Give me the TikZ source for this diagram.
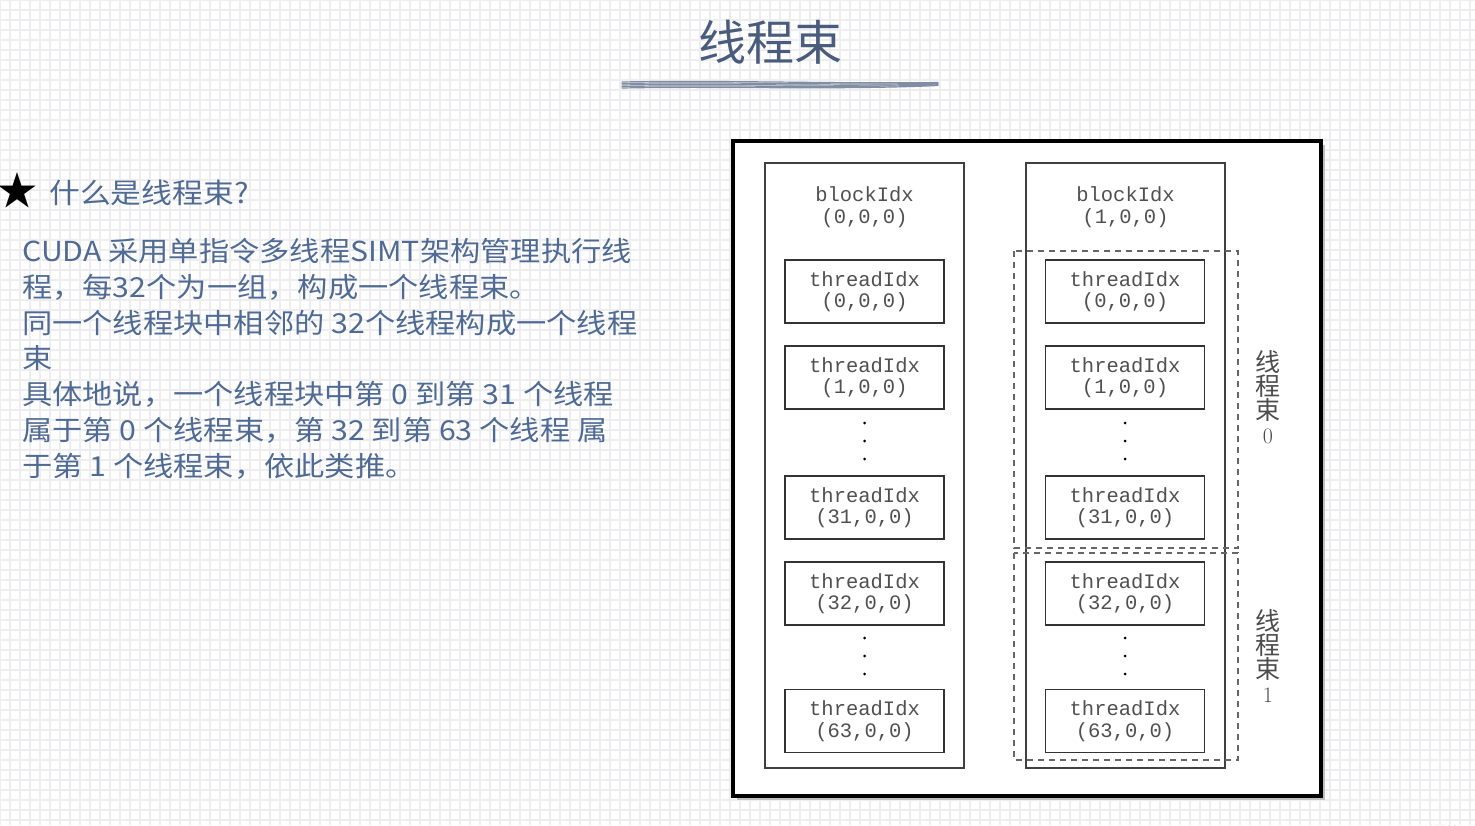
\documentclass[tikz,border=0pt]{standalone}
\usepackage{fontspec}
\newfontfamily\cjk{Noto Sans CJK SC}
\newfontfamily\cjkw{Noto Sans CJK SC}[FakeStretch=1.1]
\newfontfamily\mono{Liberation Mono}
\definecolor{slate}{HTML}{4F6A93}
\definecolor{titlec}{HTML}{4A5C7C}
\definecolor{gridc}{HTML}{EEEEF1}
\definecolor{monoc}{HTML}{505050}
\tikzset{
  tbox/.style={draw=black!80,line width=1.6pt,minimum width=159pt,minimum height=63pt,inner sep=0pt,align=center,font=\mono\fontsize{20.5}{21.5}\selectfont,text=monoc},
  blk/.style={draw=black!75,line width=1.4pt},
  warp/.style={draw=black!60,dashed,line width=1.3pt,dash pattern=on 6pt off 5pt},
  dotn/.style={circle,fill=black,inner sep=0pt,minimum size=3pt},
  body/.style={anchor=west,font=\cjkw\fontsize{27.5}{30}\selectfont,text=slate,inner sep=0pt},
  vlab/.style={font=\cjk\fontsize{25}{26}\selectfont,text=black!70,align=center,inner sep=0pt},
  gridl/.style={gridc,line width=1.3pt}
}
\begin{document}
\begin{tikzpicture}[x=1pt,y=-1pt]
\useasboundingbox (0,0) rectangle (1475,825);
\fill[white] (0,0) rectangle (1475,825);
\foreach \i in {0,10,...,1470} \draw[gridl] (\i,0) -- (\i,825);
\foreach \j in {0,10,...,820} \draw[gridl] (0,\j) -- (1475,\j);
% title
\node[font=\cjk\fontsize{48}{50}\selectfont,text=titlec] (title) at (770,42) {线程束};
\foreach \d in {-3,-1.5,0,1.5,3}{
  \draw[titlec!70,line width=1.2pt,line cap=round] (622,85+\d) .. controls (720,83+\d) and (840,87+\d) .. (938,84+\d/2);
}
% left text
\node[font=\fontsize{40}{40}\selectfont\cjk,inner sep=0pt] (star) at (18,190) {★};
\node[body,font=\cjkw\fontsize{28}{30}\selectfont] (q) at (49,193) {什么是线程束?};
\node[body] (l1) at (22,251) {CUDA 采用单指令多线程SIMT架构管理执行线};
\node[body] (l2) at (22,287) {程，每32个为一组，构成一个线程束。};
\node[body] (l3) at (22,323) {同一个线程块中相邻的 32个线程构成一个线程};
\node[body] (l4) at (22,358) {束};
\node[body] (l5) at (22,394) {具体地说，一个线程块中第 0 到第 31 个线程};
\node[body] (l6) at (22,430) {属于第 0 个线程束，第 32 到第 63 个线程 属};
\node[body] (l7) at (22,466) {于第 1 个线程束，依此类推。};
% figure frame
\fill[black!25] (737,145) rectangle (1325,800);
\draw[fill=white,line width=3.5pt] (733,141) rectangle (1321,796);
% blocks
\draw[blk] (765,163) rectangle (964,768);
\draw[blk] (1026,163) rectangle (1225,768);
\node[tbox,draw=none] (b0) at (864.5,207) {blockIdx\\(0,0,0)};
\node[tbox,draw=none] (b1) at (1125.5,207) {blockIdx\\(1,0,0)};
\foreach \c/\x in {a/864.5,b/1125}{
  \node[tbox] (\c0) at (\x,291.5) {threadIdx\\(0,0,0)};
  \node[tbox] (\c1) at (\x,377.5) {threadIdx\\(1,0,0)};
  \node[tbox] (\c31) at (\x,507.5) {threadIdx\\(31,0,0)};
  \node[tbox] (\c32) at (\x,593.5) {threadIdx\\(32,0,0)};
  \node[tbox] (\c63) at (\x,721) {threadIdx\\(63,0,0)};
  \foreach \y in {423,441,459,638,656,674} \node[dotn] at (\x,\y) {};
}
% warps
\draw[warp] (1014,251) rectangle (1238,548);
\draw[warp] (1014,553) rectangle (1238,760);
\node[vlab] (w0) at (1268,397) {线\\[-2pt]程\\[-2pt]束\\[-2pt]{\fontsize{22}{22}\selectfont\rmfamily 0}};
\node[vlab] (w1) at (1268,656) {线\\[-2pt]程\\[-2pt]束\\[-2pt]{\fontsize{22}{22}\selectfont\rmfamily 1}};
% decorative swirl
\foreach \r in {20,26,32,38,44}{
  \draw[black!25,line width=0.8pt] (1475,825) ++(180:\r) arc[start angle=180,end angle=90,radius=\r];
}
\end{tikzpicture}
\end{document}
